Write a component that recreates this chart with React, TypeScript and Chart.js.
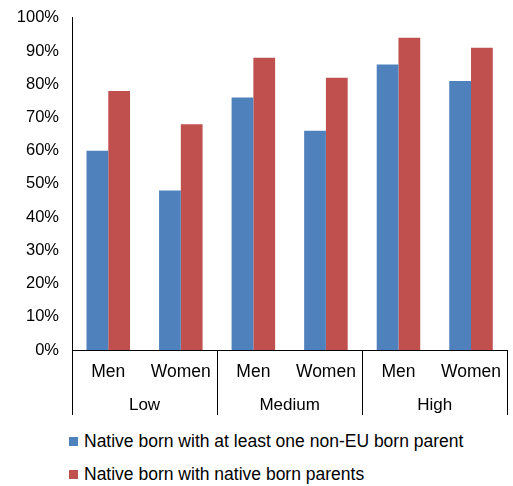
import React, { useRef, useEffect } from 'react';
import Chart from 'chart.js/auto';

const categories = ['Men', 'Women', 'Men', 'Women', 'Men', 'Women'];
const groups = ['Low', 'Medium', 'High'];
const nonEuParent = [60, 48, 76, 66, 86, 81];
const nativeParents = [78, 68, 88, 82, 94, 91];
const seriesNames = [
  'Native born with at least one non-EU born parent',
  'Native born with native born parents',
];
const colors = ['#4F81BD', '#C0504D'];

const groupPlugin = {
  id: 'groups',
  afterDraw(chart: any) {
    const { ctx, chartArea, scales } = chart;
    const x = scales.x;
    const step = x.getPixelForValue(1) - x.getPixelForValue(0);
    ctx.save();
    ctx.strokeStyle = '#000';
    ctx.lineWidth = 1;
    ctx.fillStyle = '#000';
    ctx.font = '17px "Liberation Sans", Arial, sans-serif';
    ctx.textAlign = 'center';
    ctx.textBaseline = 'middle';
    for (let g = 0; g <= groups.length; g++) {
      const px = Math.round(x.getPixelForValue(g * 2) - step / 2) + 0.5;
      ctx.beginPath();
      ctx.moveTo(px, chartArea.bottom);
      ctx.lineTo(px, chartArea.bottom + 65);
      ctx.stroke();
    }
    groups.forEach((name, g) => {
      const cx = (x.getPixelForValue(g * 2) + x.getPixelForValue(g * 2 + 1)) / 2;
      ctx.fillText(name, cx, chartArea.bottom + 55);
    });
    ctx.restore();
  },
};

const App: React.FC = () => {
  const canvasRef = useRef<HTMLCanvasElement>(null);

  useEffect(() => {
    document.body.style.margin = '0';
    const chart = new Chart(canvasRef.current!, {
      type: 'bar',
      data: {
        labels: categories,
        datasets: [
          { label: seriesNames[0], data: nonEuParent, backgroundColor: colors[0] },
          { label: seriesNames[1], data: nativeParents, backgroundColor: colors[1] },
        ],
      },
      options: {
        animation: false,
        responsive: false,
        layout: { padding: { top: 10, right: 0, bottom: 0, left: 0 } },
        datasets: { bar: { categoryPercentage: 0.6, barPercentage: 1 } },
        plugins: { legend: { display: false }, tooltip: { enabled: false } },
        scales: {
          x: {
            grid: { display: false, drawTicks: false },
            border: { color: '#000' },
            ticks: { color: '#000', padding: 12, font: { size: 17.5, family: '"Liberation Sans", Arial' } },
            afterFit: (s: any) => { s.height = 70; },
          },
          y: {
            min: 0,
            max: 100,
            grid: { display: false, drawTicks: true, tickLength: 5, tickColor: '#000' } as any,
            border: { color: '#000' },
            ticks: {
              stepSize: 10,
              color: '#000',
              padding: 8,
              font: { size: 16.5, family: '"Liberation Sans", Arial' },
              callback: (v: any) => v + '%',
            },
            afterFit: (s: any) => { s.width = 72; },
          },
        },
      },
      plugins: [groupPlugin],
    });
    return () => chart.destroy();
  }, []);

  return (
    <div style={{ width: 513, fontFamily: '"Liberation Sans", Arial, sans-serif', fontSize: 17.5, color: '#000' }}>
      <canvas ref={canvasRef} width={513} height={420} style={{ display: 'block' }} />
      <div style={{ paddingLeft: 69, paddingTop: 5 }}>
        {seriesNames.map((n, i) => (
          <div key={n} style={{ display: 'flex', alignItems: 'center', height: 33 }}>
            <span style={{ width: 9, height: 9, background: colors[i], marginRight: 6, display: 'inline-block' }} />
            {n}
          </div>
        ))}
      </div>
    </div>
  );
};

export default App;
